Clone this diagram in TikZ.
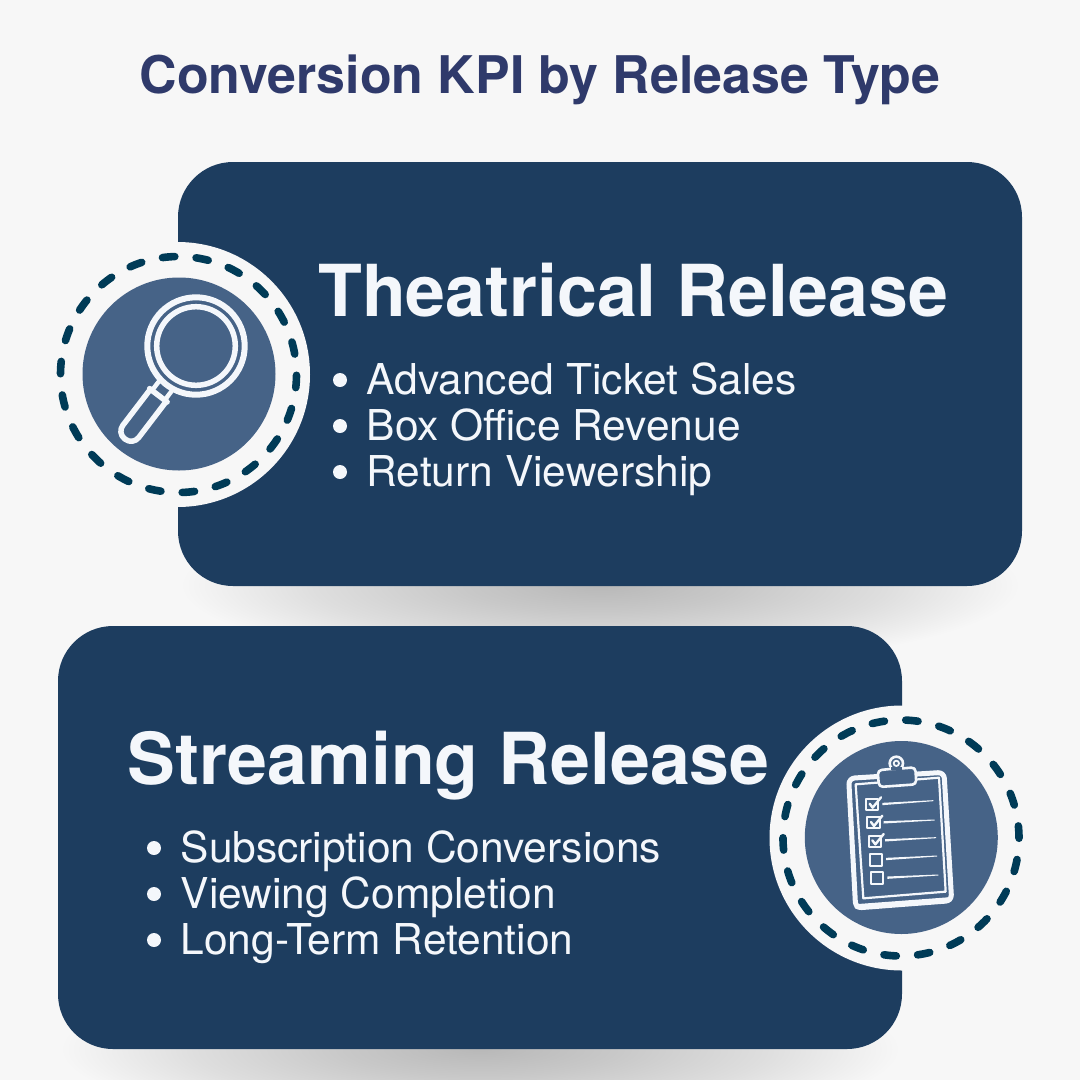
\documentclass[tikz,border=0pt]{standalone}
\usepackage{fontspec}
\setmainfont{TeX Gyre Heros}
\definecolor{bgc}{HTML}{F7F7F7}
\definecolor{cardc}{HTML}{1D3D5F}
\definecolor{discc}{HTML}{466387}
\definecolor{dashc}{HTML}{003B57}
\definecolor{titlec}{HTML}{2F3A6B}
\definecolor{inkc}{HTML}{F4F7FB}
\definecolor{shadowa}{HTML}{B8B8B8}
\definecolor{shadowb}{HTML}{C8C8C8}
\definecolor{shadowc}{HTML}{DEDEDE}
\pgfdeclareradialshading{softshadow}{\pgfpoint{0bp}{0bp}}{color(0bp)=(shadowa); color(8bp)=(shadowb); color(17bp)=(shadowc); color(25bp)=(bgc); color(50bp)=(bgc)}
\tikzset{
  card/.style={fill=cardc,rounded corners=55pt},
  halo/.style={circle,fill=bgc,minimum size=265pt,inner sep=0pt},
  disc/.style={circle,fill=discc,minimum size=193pt,inner sep=0pt},
  ringdash/.style={draw=dashc,line width=7.6pt,line cap=round},
  ttl/.style={font=\fontsize{51.9pt}{53pt}\selectfont\bfseries,text=titlec,inner sep=0pt},
  heading/.style={font=\fontsize{71.7pt}{74pt}\selectfont\bfseries,text=inkc,anchor=base west,inner sep=0pt},
  item/.style={font=\fontsize{42.5pt}{44pt}\selectfont,text=inkc,anchor=base west,inner sep=0pt},
  dot/.style={circle,fill=inkc,minimum size=14pt,inner sep=0pt},
  ink/.style={draw=inkc,line join=round,line cap=round},
}
\begin{document}
\begin{tikzpicture}[x=1pt,y=-1pt]
\useasboundingbox (0,0) rectangle (1080,1080);
\fill[bgc] (0,0) rectangle (1080,1080);
% title
\node[ttl] (title) at (540,80) {Conversion KPI by Release Type};
% shadows
\shade[shading=softshadow] (180,500) rectangle (1020,670);
\shade[shading=softshadow] (60,964) rectangle (900,1134);
% cards
\fill[card] (178,162) rectangle (1022,586);
\fill[card] (58,626) rectangle (902,1049);
% theatrical
\node[heading] (h1) at (318,316.5) {Theatrical Release};
\foreach \n/\y/\t in {a/394/Advanced Ticket Sales,b/440/Box Office Revenue,c/486/Return Viewership}{
  \node[dot] (d1\n) at (340,\y-14) {};
  \node[item] (t1\n) at (366.5,\y) {\t};
}
% streaming
\node[heading] (h2) at (127.5,784.5) {Streaming Release};
\foreach \n/\y/\t in {a/862/Subscription Conversions,b/908/Viewing Completion,c/954/Long-Term Retention}{
  \node[dot] (d2\n) at (154,\y-14) {};
  \node[item] (t2\n) at (180.5,\y) {\t};
}
% badges
\node[halo] (halo1) at (177.5,374.5) {};
\node[disc] (disc1) at (179,374) {};
\foreach \i in {0,...,21}{
  \pgfmathsetmacro{\a}{94.8-16.3636*\i}
  \draw[ringdash] ({178.5+118*cos(\a+3)},{374.5-118*sin(\a+3)}) arc[start angle=\a+3,end angle=\a-3,radius=118pt];
}
\node[halo] (halo2) at (902,838) {};
\node[disc] (disc2) at (901.3,837.5) {};
\foreach \i in {0,...,21}{
  \pgfmathsetmacro{\a}{84.7-16.3636*\i}
  \draw[ringdash] ({901+118*cos(\a+3)},{838-118*sin(\a+3)}) arc[start angle=\a+3,end angle=\a-3,radius=118pt];
}
% magnifier
\draw[ink,line width=6pt] (196,346) circle[radius=48.7pt];
\draw[ink,line width=5.5pt] (196,346) circle[radius=39.3pt];
\begin{scope}[shift={(196,346)},x={(-.607pt,-.795pt)},y={(.795pt,-.607pt)}]
  \draw[ink,line width=4.5pt] (51,-8) -- (62,-8) (51,8) -- (62,8);
  \draw[ink,line width=5.5pt] (62,-11) -- (62,11);
  \draw[ink,line width=5.5pt,rounded corners=9.5pt] (62,-10) -- (117,-10) -- (117,10) -- (62,10);
\end{scope}
% clipboard
\begin{scope}[shift={(755,695)},x=.33333pt,y=-.33333pt]
  \draw[ink,line width=5pt,rounded corners=6pt] (281,250) -- (567,232) -- (590,617) -- (302,639) -- cycle;
  \draw[ink,line width=2.2pt] (302,268) -- (552,248) -- (572,590) -- (325,610) -- cycle;
  \fill[inkc,rounded corners=3pt] (300,644) -- (592,621) -- (592,606) -- (296,628) -- cycle;
  \draw[ink,line width=2.6pt,fill=discc] (424,205) circle[radius=20];
  \draw[ink,line width=2.6pt,fill=discc,rounded corners=4pt] (368,226) -- (404,222) -- (444,220) -- (481,217) -- (484,268) -- (372,276) -- cycle;
  \fill[discc] (407,226) rectangle (441,216);
  \draw[ink,line width=1.8pt] (424,205) circle[radius=8];
  \foreach \bx/\by/\bX/\bY/\lx/\ly/\mx/\my in {
    333/312/370/345/382/327/535/317,
    337/367/374/400/386/382/539/375,
    341/422/378/455/390/436/543/428,
    345/476/380/512/393/492/546/483,
    348/532/384/567/397/548/550/540}{
    \draw[ink,line width=2.2pt] (\bx,\by) rectangle (\bX,\bY);
    \fill[inkc] (\lx,\ly-3.5) -- (\mx,\my-1.5) -- (\mx,\my+1.5) -- (\lx,\ly+3.5) -- cycle;
  }
  \foreach \bx/\by in {333/312,337/367,341/422}{
    \draw[ink,line width=2.4pt] (\bx+11,\by+14) -- (\bx+20,\by+26) -- (\bx+45,\by-5);
  }
\end{scope}
\end{tikzpicture}
\end{document}
